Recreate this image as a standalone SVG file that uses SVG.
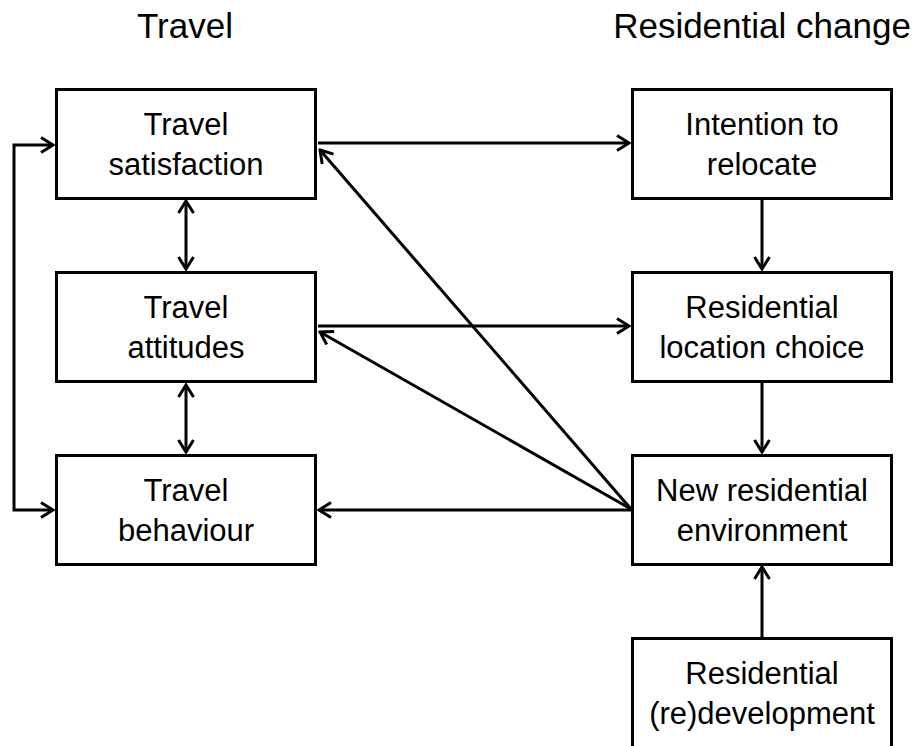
<svg xmlns="http://www.w3.org/2000/svg" width="914" height="746" viewBox="0 0 914 746">
<style>
.box{fill:#fff;stroke:#000;stroke-width:3}
.t{font-family:"Liberation Sans",Arial,sans-serif;font-size:31px;fill:#000;text-anchor:middle}
.h{font-family:"Liberation Sans",Arial,sans-serif;font-size:35px;fill:#000;text-anchor:middle}
.c{fill:none;stroke:#000;stroke-width:3}
</style>
<defs>
<marker id="a" viewBox="-15 -10 17 20" refX="0" refY="0" markerWidth="17" markerHeight="20" markerUnits="userSpaceOnUse" orient="auto-start-reverse">
<path d="M-12,-7.5 L0,0 L-12,7.5" fill="none" stroke="#000" stroke-width="3" stroke-linejoin="miter"/>
</marker>
</defs>
<rect width="914" height="746" fill="#fff"/>
<text class="h" x="185" y="38">Travel</text>
<text class="h" x="762" y="38">Residential change</text>
<g id="connectors">
<line class="c" x1="318" y1="143" x2="629" y2="143" marker-end="url(#a)"/>
<line class="c" x1="318" y1="326" x2="629" y2="326" marker-end="url(#a)"/>
<line class="c" x1="631" y1="510" x2="319" y2="510" marker-end="url(#a)"/>
<line class="c" x1="631" y1="509" x2="320" y2="332" marker-end="url(#a)"/>
<line class="c" x1="631" y1="509" x2="320" y2="150" marker-end="url(#a)"/>
<line class="c" x1="762" y1="199" x2="762" y2="269" marker-end="url(#a)"/>
<line class="c" x1="762" y1="383" x2="762" y2="452" marker-end="url(#a)"/>
<line class="c" x1="762" y1="637" x2="762" y2="567" marker-end="url(#a)"/>
<line class="c" x1="186" y1="201" x2="186" y2="269" marker-start="url(#a)" marker-end="url(#a)"/>
<line class="c" x1="186" y1="385" x2="186" y2="452" marker-start="url(#a)" marker-end="url(#a)"/>
<polyline class="c" points="53,145 14,145 14,510 53,510" marker-start="url(#a)" marker-end="url(#a)"/>
</g>
<g id="travel-satisfaction">
<rect class="box" x="56.5" y="89.5" width="259" height="109"/>
<text class="t" x="186" y="135">Travel</text>
<text class="t" x="186" y="175">satisfaction</text>
</g>
<g id="travel-attitudes">
<rect class="box" x="56.5" y="272.5" width="259" height="109"/>
<text class="t" x="186" y="318">Travel</text>
<text class="t" x="186" y="358">attitudes</text>
</g>
<g id="travel-behaviour">
<rect class="box" x="56.5" y="455.5" width="259" height="109"/>
<text class="t" x="186" y="501">Travel</text>
<text class="t" x="186" y="541">behaviour</text>
</g>
<g id="intention-to-relocate">
<rect class="box" x="632.5" y="89.5" width="259" height="109"/>
<text class="t" x="762" y="135">Intention to</text>
<text class="t" x="762" y="175">relocate</text>
</g>
<g id="residential-location-choice">
<rect class="box" x="632.5" y="272.5" width="259" height="109"/>
<text class="t" x="762" y="318">Residential</text>
<text class="t" x="762" y="358">location choice</text>
</g>
<g id="new-residential-environment">
<rect class="box" x="632.5" y="455.5" width="259" height="109"/>
<text class="t" x="762" y="501">New residential</text>
<text class="t" x="762" y="541">environment</text>
</g>
<g id="residential-redevelopment">
<rect class="box" x="632.5" y="638.5" width="259" height="120"/>
<text class="t" x="762" y="684">Residential</text>
<text class="t" x="762" y="724">(re)development</text>
</g>
</svg>
